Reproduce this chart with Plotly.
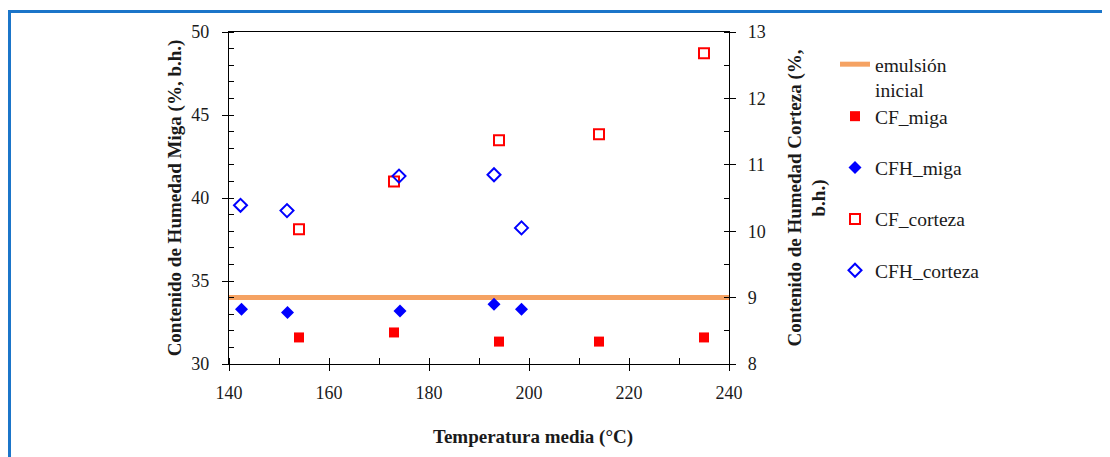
import plotly.graph_objects as go

# ---- data ----
cf_miga_x = [154, 173, 194, 214, 235]
cf_miga_y = [31.6, 31.9, 31.35, 31.35, 31.6]

cfh_miga_x = [142.5, 151.7, 174.2, 193, 198.5]
cfh_miga_y = [33.3, 33.1, 33.2, 33.6, 33.3]

cf_corteza_x = [154, 173, 194, 214, 235]
cf_corteza_y = [10.03, 10.75, 11.37, 11.46, 12.68]

cfh_corteza_x = [142.3, 151.6, 174, 193, 198.5]
cfh_corteza_y = [10.39, 10.31, 10.83, 10.85, 10.05]

emulsion_x = [140, 240]
emulsion_y = [34, 34]

FONT = "Liberation Serif, Times New Roman, serif"
TXT = "#1a1a1a"

# page has an 8px body margin; plot area in page px: x 229..729, y 32..364
def px(xp):
    return (xp - 229) / 500


def py(yp):
    return (364 - yp) / 332


fig = go.Figure()

fig.add_trace(go.Scatter(x=emulsion_x, y=emulsion_y, mode="lines",
                         name="emulsión<br>inicial",
                         line=dict(color="#F5A263", width=5),
                         legend="legend"))
fig.add_trace(go.Scatter(x=cf_miga_x, y=cf_miga_y, mode="markers", name="CF_miga",
                         marker=dict(symbol="square", color="#FF0000", size=10),
                         legend="legend2", legendgroup="a"))
fig.add_trace(go.Scatter(x=cfh_miga_x, y=cfh_miga_y, mode="markers", name="CFH_miga",
                         marker=dict(symbol="diamond", color="#0000FF", size=10),
                         legend="legend2", legendgroup="b"))
fig.add_trace(go.Scatter(x=cf_corteza_x, y=cf_corteza_y, mode="markers", name="CF_corteza",
                         marker=dict(symbol="square-open", color="#FF0000", size=10,
                                     line=dict(width=2)),
                         yaxis="y2", legend="legend2", legendgroup="c"))
fig.add_trace(go.Scatter(x=cfh_corteza_x, y=cfh_corteza_y, mode="markers", name="CFH_corteza",
                         marker=dict(symbol="diamond-open", color="#0000FF", size=10,
                                     line=dict(width=2)),
                         yaxis="y2", legend="legend2", legendgroup="d"))

axis_common = dict(showline=True, linecolor="#000", linewidth=1.2,
                   ticks="outside", ticklen=6, tickcolor="#000", tickwidth=1.2,
                   showgrid=False, zeroline=False,
                   tickfont=dict(family=FONT, size=18, color=TXT))

fig.update_layout(
    width=1102, height=449,
    margin=dict(l=221, r=381, t=24, b=93),
    paper_bgcolor="white", plot_bgcolor="white",
    font=dict(family=FONT, color=TXT),
    xaxis=dict(range=[140, 240], dtick=20, tick0=140, mirror=True,
               ticklabelstandoff=6,
               minor=dict(dtick=10, ticks="inside", ticklen=6, tickcolor="#000"),
               **axis_common),
    yaxis=dict(range=[30, 50], dtick=5, tick0=30, ticklabelstandoff=9,
               minor=dict(dtick=1, ticks="inside", ticklen=5, tickcolor="#000"),
               title=dict(text="<b>Contenido de Humedad Miga (%, b.h.)</b>",
                          font=dict(family=FONT, size=19, color=TXT), standoff=4),
               **axis_common),
    yaxis2=dict(range=[8, 13], dtick=1, tick0=8, overlaying="y", side="right",
                ticklabelstandoff=8,
                minor=dict(dtick=0.5, ticks="inside", ticklen=5, tickcolor="#000"),
                title=dict(text="<b>Contenido de Humedad Corteza (%,<br>b.h.)</b>",
                           font=dict(family=FONT, size=19, color=TXT), standoff=22),
                **axis_common),
    legend=dict(x=px(835), y=py(45), xanchor="left", yanchor="top",
                valign="top", font=dict(family=FONT, size=19.5, color=TXT),
                bgcolor="rgba(0,0,0,0)"),
    legend2=dict(x=px(835), y=py(97), xanchor="left", yanchor="top",
                 traceorder="grouped", tracegroupgap=23,
                 font=dict(family=FONT, size=19.5, color=TXT),
                 bgcolor="rgba(0,0,0,0)"),
    showlegend=True,
    annotations=[dict(text="<b>Temperatura media (°C)</b>", xref="paper", yref="paper",
                      x=px(533), y=py(437), showarrow=False,
                      font=dict(family=FONT, size=19, color=TXT),
                      xanchor="center", yanchor="middle")],
    shapes=[
        dict(type="line", xref="paper", yref="paper",
             x0=px(9.5), x1=px(9.5), y0=py(480), y1=py(10),
             line=dict(color="#1B75C9", width=3)),
        dict(type="line", xref="paper", yref="paper",
             x0=px(8), x1=px(1120), y0=py(11.5), y1=py(11.5),
             line=dict(color="#1B75C9", width=3)),
    ],
)

fig.write_html("out.html")
